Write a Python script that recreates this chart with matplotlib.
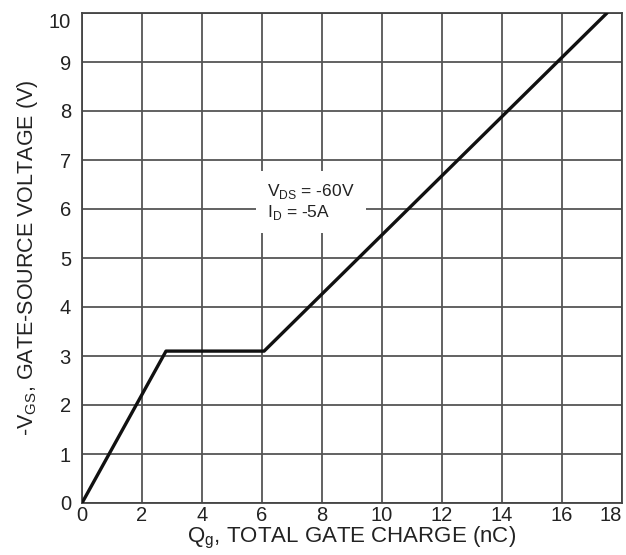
import matplotlib
matplotlib.use("Agg")
import matplotlib.pyplot as plt

# Data
qg = [0.0, 2.8, 6.07, 17.5]
vgs = [0.0, 3.1, 3.1, 10.0]
x_ticks = [0, 2, 4, 6, 8, 10, 12, 14, 16, 18]
y_ticks = [0, 1, 2, 3, 4, 5, 6, 7, 8, 9, 10]

plt.rcParams['font.family'] = ['Liberation Sans', 'DejaVu Sans']

fig = plt.figure(figsize=(6.26, 5.55), dpi=100)
ax = fig.add_axes([82/626, 1 - 503/555, (622-82)/626, (503-13)/555])

ax.set_xlim(0, 18)
ax.set_ylim(0, 10)
ax.set_xticks(x_ticks)
ax.set_yticks(y_ticks)
ax.tick_params(axis='both', length=0, labelsize=14.5, colors='#222222')
ax.tick_params(axis='x', pad=2)
ax.tick_params(axis='y', pad=8)
ax.grid(True, color='#555555', linewidth=1.3)
ax.set_axisbelow(True)
for s in ax.spines.values():
    s.set_color('#444444')
    s.set_linewidth(1.3)

ax.plot(qg, vgs, color='#111111', linewidth=2.4, solid_capstyle='round', zorder=3)

ax.text(6.17, 6.14, "V$_{\\mathregular{DS}}$ = -60V\nI$_{\\mathregular{D}}$ = -5A",
        fontsize=12.5, color='#222222', ha='left', va='center', linespacing=1.15,
        bbox=dict(facecolor='white', edgecolor='none', pad=8), zorder=4)

ax.set_xlabel("Q$_{\\mathregular{g}}$, TOTAL GATE CHARGE (nC)", fontsize=16, color='#222222', labelpad=0)
ax.set_ylabel("-V$_{\\mathregular{GS}}$, GATE-SOURCE VOLTAGE (V)", fontsize=15.5, color='#222222', labelpad=6)

# keep end labels inside the figure like the reference
fig.canvas.draw()
xl = ax.get_xticklabels()
xl[-1].set_horizontalalignment('right')
yl = ax.get_yticklabels()
yl[-1].set_verticalalignment('top')

fig.savefig("out.png", dpi=100)
